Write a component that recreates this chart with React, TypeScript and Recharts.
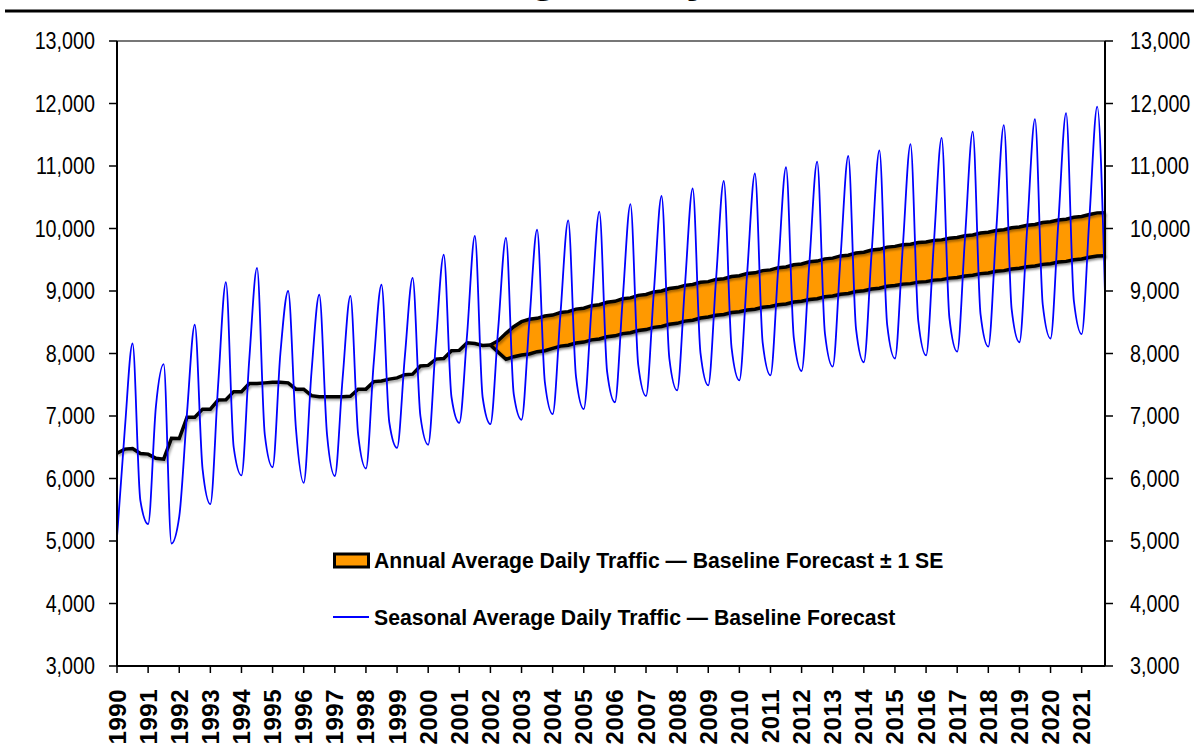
import React from 'react';
import {
  ComposedChart,
  Line,
  Area,
  XAxis,
  YAxis,
  ReferenceLine,
} from 'recharts';

// tick labels
const years = [
  '1990', '1991', '1992', '1993', '1994', '1995', '1996', '1997',
  '1998', '1999', '2000', '2001', '2002', '2003', '2004', '2005',
  '2006', '2007', '2008', '2009', '2010', '2011', '2012', '2013',
  '2014', '2015', '2016', '2017', '2018', '2019', '2020', '2021',
];
const yTicks = [3000, 4000, 5000, 6000, 7000, 8000, 9000, 10000, 11000, 12000, 13000];

// quarterly seasonal ADT, 1990 Q1 .. 2021 Q4 (one row per year)
const seasonalAdt = [
  5060, 6780, 8160, 5650,
  5270, 7150, 7830, 4960,
  5390, 7050, 8460, 6150,
  5590, 7500, 9140, 6500,
  6050, 7900, 9370, 6700,
  6180, 8000, 9000, 6800,
  5930, 7700, 8940, 6700,
  6040, 7600, 8920, 6700,
  6160, 7850, 9100, 6900,
  6490, 7950, 9210, 7000,
  6540, 8200, 9580, 7300,
  6890, 8300, 9880, 7300,
  6870, 8400, 9850, 7350,
  6940, 8500, 9980, 7540,
  7030, 8630, 10130, 7630,
  7110, 8740, 10270, 7710,
  7220, 8860, 10390, 7820,
  7320, 8970, 10520, 7920,
  7410, 9080, 10640, 8010,
  7490, 9180, 10760, 8090,
  7570, 9280, 10880, 8170,
  7650, 9370, 10980, 8250,
  7720, 9450, 11070, 8320,
  7790, 9530, 11160, 8390,
  7860, 9610, 11250, 8460,
  7920, 9690, 11350, 8520,
  7970, 9760, 11450, 8570,
  8030, 9840, 11550, 8630,
  8110, 9930, 11655, 8710,
  8180, 10010, 11750, 8780,
  8240, 10090, 11845, 8840,
  8310, 10180, 11950, 8960,
];

// historical annual ADT (moving), 1990 Q1 .. 2002 Q1
const annualAdt = [
  6403, 6470, 6480, 6400,
  6390, 6323, 6310, 6643,
  6640, 6979, 6980, 7110,
  7110, 7256, 7260, 7390,
  7390, 7520, 7520, 7530,
  7540, 7540, 7530, 7430,
  7430, 7325, 7310, 7310,
  7310, 7310, 7315, 7430,
  7430, 7550, 7560, 7590,
  7610, 7660, 7670, 7800,
  7810, 7910, 7920, 8045,
  8050, 8170, 8160, 8130,
  8136,
];

// forecast band (-1 SE / +1 SE), 2002 Q1 .. 2021 Q4
const forecastLow = [
  8136, 8019, 7907, 7949,
  7976, 7992, 8029, 8045,
  8083, 8118, 8133, 8168,
  8183, 8218, 8233, 8268,
  8283, 8318, 8333, 8368,
  8383, 8418, 8433, 8468,
  8483, 8518, 8533, 8568,
  8583, 8613, 8625, 8655,
  8667, 8697, 8709, 8739,
  8751, 8781, 8793, 8823,
  8835, 8865, 8877, 8907,
  8919, 8949, 8961, 8991,
  9003, 9033, 9045, 9075,
  9087, 9110, 9118, 9142,
  9150, 9174, 9182, 9206,
  9215, 9241, 9252, 9278,
  9289, 9315, 9326, 9352,
  9363, 9389, 9400, 9426,
  9437, 9463, 9474, 9500,
  9511, 9540, 9560, 9565,
];
const forecastHigh = [
  8136, 8205, 8323, 8429,
  8509, 8547, 8563, 8600,
  8615, 8655, 8670, 8710,
  8725, 8765, 8780, 8820,
  8835, 8875, 8890, 8930,
  8945, 8985, 9000, 9040,
  9055, 9090, 9105, 9140,
  9150, 9185, 9197, 9232,
  9244, 9279, 9291, 9326,
  9338, 9373, 9385, 9420,
  9432, 9467, 9479, 9514,
  9526, 9561, 9573, 9608,
  9620, 9655, 9667, 9702,
  9714, 9740, 9748, 9775,
  9783, 9810, 9818, 9845,
  9855, 9885, 9897, 9927,
  9939, 9969, 9981, 10011,
  10023, 10053, 10065, 10095,
  10107, 10137, 10149, 10179,
  10191, 10225, 10250, 10253,
];

const forecastStart = annualAdt.length - 1;

const chartData = seasonalAdt.map((v, i) => {
  const f = i - forecastStart;
  return {
    q: i,
    seasonal: v,
    annual: i < annualAdt.length ? annualAdt[i] : null,
    band: f >= 0 ? [forecastLow[f], forecastHigh[f]] : null,
  };
});

const title = 'Average Daily Traffic';
const legendItems = [
  { label: 'Annual Average Daily Traffic \u2014 Baseline Forecast \u00b1 1 SE', kind: 'band' },
  { label: 'Seasonal Average Daily Traffic \u2014 Baseline Forecast', kind: 'line' },
];

const font = "'Liberation Sans', Arial, sans-serif";

const YearTick = (props: any) => {
  const { x, y, payload } = props;
  return (
    <text
      x={x}
      y={y}
      transform={`rotate(-90 ${x} ${y})`}
      textAnchor="end"
      dominantBaseline="central"
      fontFamily={font}
      fontWeight="bold"
      fontSize={24}
      letterSpacing={0.5}
      fill="#000"
    >
      {years[payload.value / 4]}
    </text>
  );
};

// narrow-looking value labels (Arial Narrow style)
const ValueTick = (props: any) => {
  const { x, y, payload, textAnchor } = props;
  return (
    <g transform={`translate(${x},${y}) scale(0.84,1)`}>
      <text
        x={0}
        y={0}
        textAnchor={textAnchor}
        dominantBaseline="central"
        fontFamily={font}
        fontSize={23.5}
        fill="#000"
      >
        {Number(payload.value).toLocaleString('en-US')}
      </text>
    </g>
  );
};

export default function App() {
  return (
    <div style={{ position: 'absolute', left: 0, top: 0, width: 1198, height: 754, background: '#fff' }}>
      <ComposedChart
        width={1198}
        height={754}
        data={chartData}
        margin={{ top: 41, right: 0, bottom: 0, left: 0 }}
      >
        <defs>
          <filter id="shade" x="-5%" y="-5%" width="110%" height="120%">
            <feDropShadow dx="1.5" dy="2" stdDeviation="0.8" floodColor="#000" floodOpacity="0.35" />
          </filter>
        </defs>
        <XAxis
          dataKey="q"
          type="number"
          domain={[0, 127]}
          ticks={years.map((_, i) => i * 4)}
          interval={0}
          height={88}
          tickSize={7}
          tickMargin={16}
          axisLine={{ stroke: '#000', strokeWidth: 2 }}
          tickLine={{ stroke: '#000', strokeWidth: 1.5 }}
          tick={<YearTick />}
        />
        <YAxis
          yAxisId="left"
          orientation="left"
          domain={[3000, 13000]}
          ticks={yTicks}
          interval={0}
          width={117}
          tickSize={8}
          tickMargin={14}
          axisLine={{ stroke: '#000', strokeWidth: 2 }}
          tickLine={{ stroke: '#000', strokeWidth: 1.5 }}
          tick={<ValueTick />}
        />
        <YAxis
          yAxisId="right"
          orientation="right"
          domain={[3000, 13000]}
          ticks={yTicks}
          interval={0}
          width={93}
          tickSize={8}
          tickMargin={17}
          axisLine={{ stroke: '#000', strokeWidth: 2 }}
          tickLine={{ stroke: '#000', strokeWidth: 1.5 }}
          tick={<ValueTick />}
        />
        <ReferenceLine yAxisId="left" y={13000} stroke="#777" strokeWidth={2} />
        <Area
          yAxisId="left"
          dataKey="band"
          type="linear"
          fill="#FF9900"
          fillOpacity={1}
          stroke="#000"
          strokeWidth={3.5}
          filter="url(#shade)"
          isAnimationActive={false}
          activeDot={false}
          dot={false}
        />
        <Line
          yAxisId="left"
          dataKey="annual"
          type="linear"
          stroke="#000"
          strokeWidth={3.5}
          filter="url(#shade)"
          dot={false}
          activeDot={false}
          isAnimationActive={false}
        />
        <Line
          yAxisId="right"
          dataKey="seasonal"
          type="monotone"
          stroke="#0000FF"
          strokeWidth={1.8}
          dot={false}
          activeDot={false}
          isAnimationActive={false}
        />
      </ComposedChart>
      <svg
        width={1198}
        height={754}
        style={{ position: 'absolute', left: 0, top: 0, pointerEvents: 'none' }}
      >
        <text x={397} y={-9} fontFamily={font} fontWeight="bold" fontSize={48} fill="#000">
          {title}
        </text>
        <line x1={5} x2={1194} y1={11} y2={11} stroke="#000" strokeWidth={3} />
        {legendItems.map((item, i) => {
          const cy = 560 + i * 57;
          return (
            <g key={item.label}>
              {item.kind === 'band' ? (
                <rect x={334.5} y={cy - 6} width={34} height={13} fill="#FF9900" stroke="#000" strokeWidth={3} />
              ) : (
                <line x1={333} x2={369} y1={cy} y2={cy} stroke="#0000FF" strokeWidth={1.8} />
              )}
              <text
                x={374}
                y={cy + 7.5}
                fontFamily={font}
                fontWeight="bold"
                fontSize={21.2}
                fill="#000"
              >
                {item.label}
              </text>
            </g>
          );
        })}
      </svg>
    </div>
  );
}
